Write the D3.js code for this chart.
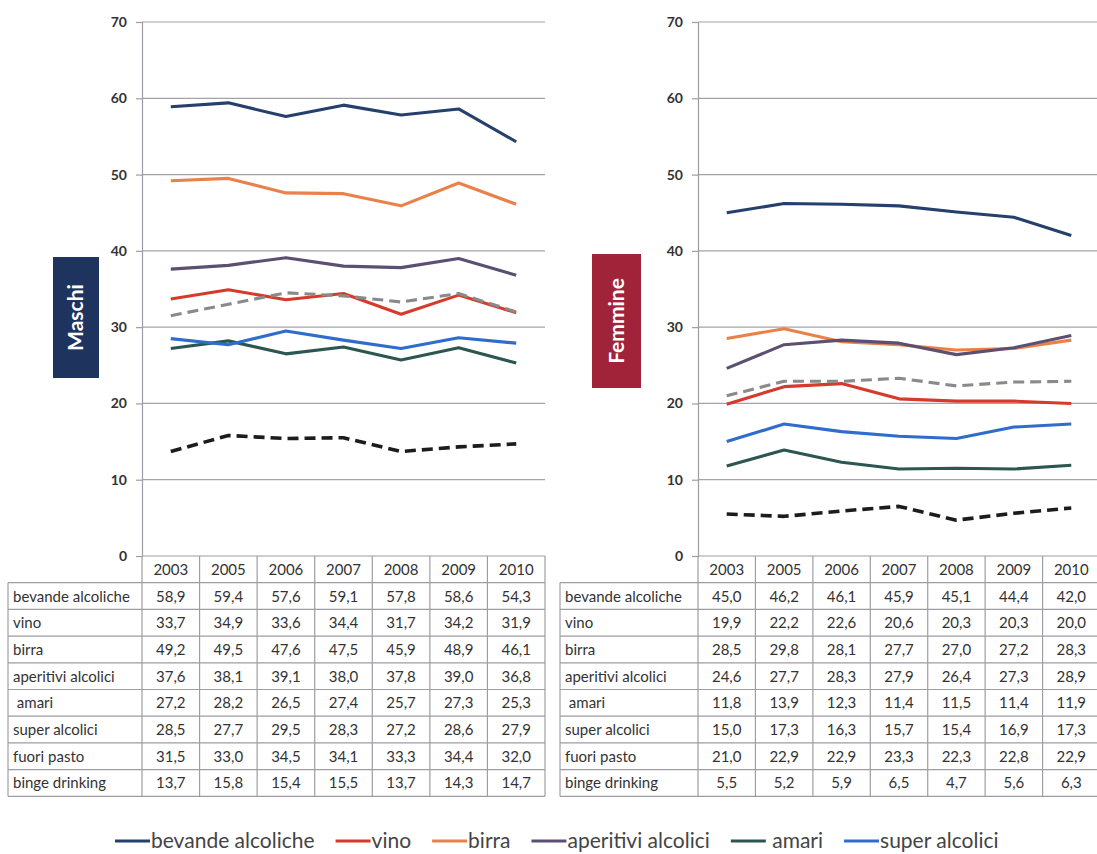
<!DOCTYPE html>
<html><head><meta charset="utf-8">
<script src="https://cdn.jsdelivr.net/npm/d3@7"></script>
<style>
html,body{margin:0;padding:0;background:#fff;}
svg{display:block;}
text{font-family:Lato,"Open Sans",sans-serif;}
</style></head>
<body>
<script>
// ---------- DATA ----------
const years = ["2003","2005","2006","2007","2008","2009","2010"];
const seriesNames = ["bevande alcoliche","vino","birra","aperitivi alcolici"," amari","super alcolici","fuori pasto","binge drinking"];
const seriesColors = ["#25406c","#d63a2a","#e8824a","#5b4f72","#2c5650","#2f6ccb","#8a8a8a","#1c1c1c"];
const seriesDash = [null,null,null,null,null,null,"11,6","11,6"];
const legendCount = 6;
const yTicks = [0,10,20,30,40,50,60,70];

const maschiBevande   = [58.9,59.4,57.6,59.1,57.8,58.6,54.3];
const maschiVino      = [33.7,34.9,33.6,34.4,31.7,34.2,31.9];
const maschiBirra     = [49.2,49.5,47.6,47.5,45.9,48.9,46.1];
const maschiAperitivi = [37.6,38.1,39.1,38.0,37.8,39.0,36.8];
const maschiAmari     = [27.2,28.2,26.5,27.4,25.7,27.3,25.3];
const maschiSuper     = [28.5,27.7,29.5,28.3,27.2,28.6,27.9];
const maschiFuori     = [31.5,33.0,34.5,34.1,33.3,34.4,32.0];
const maschiBinge     = [13.7,15.8,15.4,15.5,13.7,14.3,14.7];

const femmineBevande   = [45.0,46.2,46.1,45.9,45.1,44.4,42.0];
const femmineVino      = [19.9,22.2,22.6,20.6,20.3,20.3,20.0];
const femmineBirra     = [28.5,29.8,28.1,27.7,27.0,27.2,28.3];
const femmineAperitivi = [24.6,27.7,28.3,27.9,26.4,27.3,28.9];
const femmineAmari     = [11.8,13.9,12.3,11.4,11.5,11.4,11.9];
const femmineSuper     = [15.0,17.3,16.3,15.7,15.4,16.9,17.3];
const femmineFuori     = [21.0,22.9,22.9,23.3,22.3,22.8,22.9];
const femmineBinge     = [5.5,5.2,5.9,6.5,4.7,5.6,6.3];

const maschiSeries  = [maschiBevande,maschiVino,maschiBirra,maschiAperitivi,maschiAmari,maschiSuper,maschiFuori,maschiBinge];
const femmineSeries = [femmineBevande,femmineVino,femmineBirra,femmineAperitivi,femmineAmari,femmineSuper,femmineFuori,femmineBinge];

// ---------- LAYOUT ----------
const W = 1097, H = 854;
const svg = d3.select("body").append("svg").attr("width",W).attr("height",H);
const fmt = v => d3.format(".1f")(v).replace(".", ",");

const panels = [
  {title:"Maschi", color:"#1f335f", series:maschiSeries, x0:142, x1:545, tableLeft:8,
   box:{x:53,y:257,w:46,h:121}},
  {title:"Femmine", color:"#a12339", series:femmineSeries, x0:698, x1:1100, tableLeft:560,
   box:{x:592,y:254,w:49,h:134}}
];
const yTop = 22, yBottom = 556, rowH = 26.7;
const gridColor = "#a3a3ad", borderColor = "#9d9da5";
const tableFont = "15px";

panels.forEach(p => {
  const g = svg.append("g");
  const x = d3.scaleBand().domain(years).range([p.x0, p.x1]);
  const y = d3.scaleLinear().domain([0,70]).range([yBottom, yTop]);
  const bw = x.bandwidth();

  g.append("g").selectAll("line").data(yTicks.filter(t => t > 0)).join("line")
    .attr("x1", p.x0).attr("x2", p.x1)
    .attr("y1", d => y(d)).attr("y2", d => y(d))
    .attr("stroke", gridColor).attr("stroke-width", 1.2);

  const ax = g.append("g").attr("transform", `translate(${p.x0},0)`)
    .call(d3.axisLeft(y).tickValues(yTicks).tickSize(6).tickPadding(9));
  ax.select(".domain").attr("stroke", borderColor).attr("stroke-width",1.2);
  ax.selectAll(".tick line").attr("stroke", borderColor).attr("stroke-width",1.2);
  ax.selectAll(".tick text").attr("fill","#333").style("font-size","14px")
    .style("font-family","Lato, sans-serif").style("font-weight","700");

  const line = d3.line().x((d,i) => x(years[i]) + bw/2).y(d => y(d));
  p.series.forEach((s, k) => {
    g.append("path").datum(s)
      .attr("d", line)
      .attr("fill","none")
      .attr("stroke", seriesColors[k])
      .attr("stroke-width", k === 7 ? 3.6 : 3.1)
      .attr("stroke-dasharray", seriesDash[k])
      .attr("stroke-linejoin","round");
  });

  g.append("rect").attr("x",p.box.x).attr("y",p.box.y).attr("width",p.box.w).attr("height",p.box.h)
    .attr("fill",p.color);
  g.append("text")
    .attr("transform",`translate(${p.box.x + p.box.w/2 + 7},${p.box.y + p.box.h/2}) rotate(-90)`)
    .attr("text-anchor","middle").attr("fill","#fff")
    .style("font-size","21px").style("font-weight","700")
    .text(p.title);

  const t = g.append("g");
  const tableBottom = yBottom + rowH * (seriesNames.length + 1);
  t.append("line").attr("x1",p.x0).attr("x2",p.x1).attr("y1",yBottom).attr("y2",yBottom)
    .attr("stroke",borderColor).attr("stroke-width",1.2);
  d3.range(seriesNames.length + 1).forEach(r => {
    const yy = yBottom + rowH * (r + 1);
    t.append("line").attr("x1",p.tableLeft).attr("x2",p.x1).attr("y1",yy).attr("y2",yy)
      .attr("stroke",borderColor).attr("stroke-width",1.2);
  });
  years.forEach(yr => {
    t.append("line").attr("x1",x(yr)).attr("x2",x(yr)).attr("y1",yBottom).attr("y2",tableBottom)
      .attr("stroke",borderColor).attr("stroke-width",1.2);
  });
  t.append("line").attr("x1",p.x1).attr("x2",p.x1).attr("y1",yBottom).attr("y2",tableBottom)
    .attr("stroke",borderColor).attr("stroke-width",1.2);
  t.append("line").attr("x1",p.tableLeft).attr("x2",p.tableLeft).attr("y1",yBottom+rowH).attr("y2",tableBottom)
    .attr("stroke",borderColor).attr("stroke-width",1.2);

  t.selectAll("text.yr").data(years).join("text").attr("class","yr")
    .attr("x", d => x(d) + bw/2).attr("y", yBottom + rowH/2 + 5.5)
    .attr("text-anchor","middle").attr("fill","#333").style("font-size",tableFont)
    .text(d => d);

  seriesNames.forEach((name, r) => {
    const cy = yBottom + rowH * (r + 1) + rowH/2 + 5.5;
    t.append("text").attr("x", p.tableLeft + 5).attr("y", cy)
      .attr("fill","#333").style("font-size",tableFont).style("white-space","pre")
      .attr("xml:space","preserve")
      .text(name);
    t.selectAll(null).data(p.series[r]).join("text")
      .attr("x", (d,i) => x(years[i]) + bw/2).attr("y", cy)
      .attr("text-anchor","middle").attr("fill","#333").style("font-size",tableFont)
      .text(d => fmt(d));
  });
});

// ---------- LEGEND ----------
const lg = svg.append("g");
let lx = 115;
const ly = 841;
seriesNames.slice(0, legendCount).forEach((name, k) => {
  lg.append("line").attr("x1",lx).attr("x2",lx+35).attr("y1",ly).attr("y2",ly)
    .attr("stroke",seriesColors[k]).attr("stroke-width",3);
  const tx = lg.append("text").attr("x",lx+36).attr("y",ly+7)
    .attr("fill","#444").style("font-size","21px").style("white-space","pre")
    .attr("xml:space","preserve").text(name);
  lx = lx + 36 + tx.node().getComputedTextLength() + 21;
});
</script>
</body></html>
